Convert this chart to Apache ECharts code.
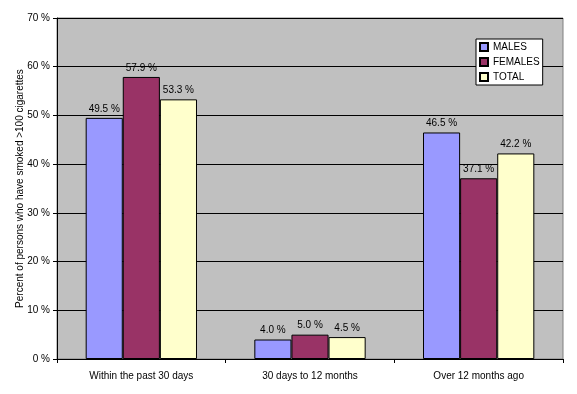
<!DOCTYPE html>
<html><head><meta charset="utf-8">
<script src="https://cdn.jsdelivr.net/npm/echarts@6/dist/echarts.min.js"></script>
<style>html,body{margin:0;padding:0;background:#fff}#c{width:577px;height:394px}</style>
</head><body><div id="c"></div>
<script>
const categories = ["Within the past 30 days", "30 days to 12 months", "Over 12 months ago"];
const males = [49.5, 4.0, 46.5];
const females = [57.9, 5.0, 37.1];
const total = [53.3, 4.5, 42.2];
const seriesNames = ["MALES", "FEMALES", "TOTAL"];
const seriesColors = ["#9999FF", "#993366", "#FFFFCC"];
const yTitle = "Percent of persons who have smoked >100 cigarettes";

const font = "Liberation Sans, Arial, sans-serif";
const chart = echarts.init(document.getElementById('c'), null, {renderer: 'canvas'});
const mk = (name, data, color) => ({
  name, type: 'bar', data, barGap: '0%', barCategoryGap: '34%',
  itemStyle: {color, borderColor: '#000', borderWidth: 1},
  label: {show: true, position: 'top', distance: 4, color: '#000', fontFamily: font, fontSize: 10,
    formatter: p => p.value.toFixed(1) + ' %'}
});
chart.setOption({
  animation: false,
  textStyle: {fontFamily: font},
  grid: {left: 57, right: 14, top: 18, bottom: 35, show: true, backgroundColor: '#C0C0C0', borderColor: '#808080', borderWidth: 1},
  legend: {
    orient: 'vertical', left: 476, top: 39,
    backgroundColor: '#fff', borderColor: '#000', borderWidth: 1,
    padding: [3, 3, 3, 3], itemGap: 5, itemWidth: 8, itemHeight: 8, icon: 'rect',
    textStyle: {fontFamily: font, fontSize: 10, color: '#000'},
    data: seriesNames
  },
  xAxis: {
    type: 'category', data: categories,
    axisLine: {lineStyle: {color: '#000', width: 1}},
    axisTick: {show: true, length: 4, lineStyle: {color: '#000'}},
    axisLabel: {color: '#000', fontSize: 10, margin: 12, fontFamily: font}
  },
  yAxis: {
    type: 'value', min: 0, max: 70, interval: 10,
    name: yTitle, nameLocation: 'middle', nameGap: 32, nameRotate: 90, nameMoveOverlap: false,
    nameTextStyle: {fontSize: 10, color: '#000', fontFamily: font},
    axisLine: {show: true, lineStyle: {color: '#000'}},
    axisTick: {show: true, length: 4, lineStyle: {color: '#000'}},
    axisLabel: {color: '#000', fontSize: 10, margin: 7, formatter: v => v + ' %', fontFamily: font},
    splitLine: {show: true, lineStyle: {color: '#000', width: 1}}
  },
  series: [mk(seriesNames[0], males, seriesColors[0]), mk(seriesNames[1], females, seriesColors[1]), mk(seriesNames[2], total, seriesColors[2])]
});
</script></body></html>
